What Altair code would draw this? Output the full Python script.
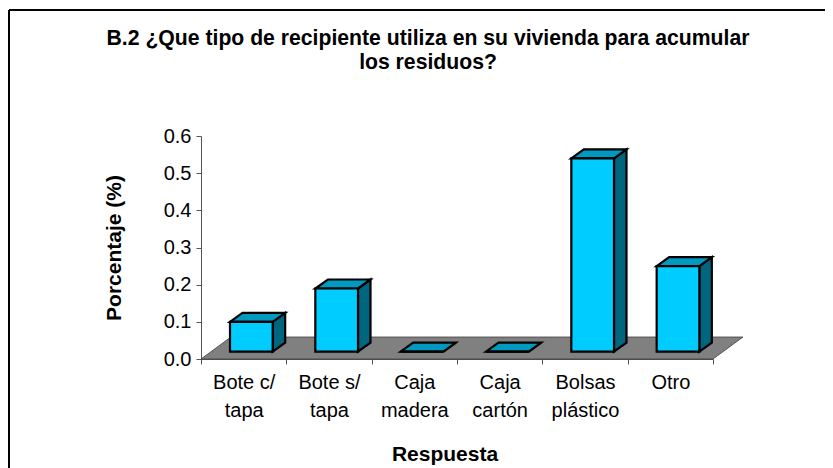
import altair as alt
import pandas as pd

categories = ["Bote c/\ntapa", "Bote s/\ntapa", "Caja\nmadera", "Caja\ncartón", "Bolsas\nplástico", "Otro"]
values = [0.08, 0.17, 0.0, 0.0, 0.52, 0.23]
title_lines = ["B.2 ¿Que tipo de recipiente utiliza en su vivienda para acumular", "los residuos?"]

FONT = "Liberation Sans"
W, H = 512, 223
UX, UY = W / 6, H / 0.6   # px per category / px per unit


def px(v):
    return v / UX


def py(v):
    return v / UY


FLOOR_DX, FLOOR_DY = px(30), py(22)
BASE_X, BASE_Y = px(29), py(7.3)
BAR_W = 0.5
SIDE_DX, SIDE_DY = px(12.5), py(9)

floor_rows = [
    dict(x=0, y=0, y2=0),
    dict(x=FLOOR_DX, y=0, y2=FLOOR_DY),
    dict(x=6, y=0, y2=FLOOR_DY),
    dict(x=6 + FLOOR_DX, y=FLOOR_DY, y2=FLOOR_DY),
]
front_rows, side_rows, top_rows = [], [], []
for i, v in enumerate(values):
    x0 = i + BASE_X
    x1 = x0 + BAR_W
    b = BASE_Y
    t = BASE_Y + v
    front_rows.append(dict(x=x0, x2=x1, y=b, y2=t))
    side_rows += [
        dict(bar=i, x=x1, y=b, y2=t),
        dict(bar=i, x=x1 + SIDE_DX, y=b + SIDE_DY, y2=t + SIDE_DY),
    ]
    top_rows += [
        dict(bar=i, x=x0, y=t, y2=t),
        dict(bar=i, x=x0 + SIDE_DX, y=t, y2=t + SIDE_DY),
        dict(bar=i, x=x1, y=t, y2=t + SIDE_DY),
        dict(bar=i, x=x1 + SIDE_DX, y=t + SIDE_DY, y2=t + SIDE_DY),
    ]

xq = alt.X("x:Q", scale=alt.Scale(domain=[0, 6], nice=False, zero=False), axis=None)
yq = alt.Y(
    "y:Q",
    scale=alt.Scale(domain=[0, 0.6], nice=False),
    axis=alt.Axis(
        values=[0, 0.1, 0.2, 0.3, 0.4, 0.5, 0.6],
        format=".1f",
        grid=False,
        title="Porcentaje (%)",
        titleFont=FONT,
        titleFontSize=21,
        titleFontWeight="bold",
        titleColor="#000000",
        titleX=-76.5,
        titleY=111.5,
        titleAnchor="middle",
        labelFont=FONT,
        labelFontSize=20,
        labelColor="#000000",
        labelPadding=5,
        tickSize=5,
        tickColor="#555555",
        domainColor="#555555",
    ),
)

axis_df = pd.DataFrame({"cat": categories, "y": values})
axis_layer = (
    alt.Chart(axis_df)
    .mark_tick(opacity=0)
    .encode(
        x=alt.X(
            "cat:N",
            sort=categories,
            scale=alt.Scale(paddingInner=0, paddingOuter=0),
            axis=alt.Axis(
                title="Respuesta",
                titleFont=FONT,
                titleFontSize=21,
                titleFontWeight="bold",
                titleColor="#000000",
                titleX=243.5,
                titleY=84,
                titleAnchor="middle",
                labelExpr="split(datum.label, '\\n')",
                labelAngle=0,
                labelFont=FONT,
                labelFontSize=20,
                labelColor="#000000",
                labelLineHeight=28,
                labelPadding=8,
                tickBand="extent",
                tickSize=5,
                tickColor="#555555",
                domainColor="#555555",
                labelBaseline="top",
            ),
        ),
        y=yq,
    )
)

floor = (
    alt.Chart(pd.DataFrame(floor_rows))
    .mark_area(color="#808080", stroke="#404040", strokeWidth=0.8)
    .encode(x=xq, y=yq, y2="y2:Q")
)
side = (
    alt.Chart(pd.DataFrame(side_rows))
    .mark_area(color="#006680", stroke="#000000", strokeWidth=2.2)
    .encode(x=xq, y=yq, y2="y2:Q", detail="bar:N")
)
top = (
    alt.Chart(pd.DataFrame(top_rows))
    .mark_area(color="#0099C0", stroke="#000000", strokeWidth=2.2)
    .encode(x=xq, y=yq, y2="y2:Q", detail="bar:N")
)
front = (
    alt.Chart(pd.DataFrame(front_rows))
    .mark_rect(color="#00CCFF", stroke="#000000", strokeWidth=2.2)
    .encode(x=xq, x2="x2:Q", y=yq, y2="y2:Q")
)

frame_left = alt.Chart(axis_df).mark_rule(color="#000000", strokeWidth=1.2).encode(
    x=alt.value(-192), y=alt.value(-126), y2=alt.value(340)
)
frame_top = alt.Chart(axis_df).mark_rule(color="#000000", strokeWidth=1.2).encode(
    x=alt.value(-192), x2=alt.value(640), y=alt.value(-126)
)

chart = (
    alt.layer(axis_layer, floor, side, top, front, frame_left, frame_top)
    .resolve_scale(x="independent")
    .properties(
        width=W,
        height=H,
        autosize="none",
        padding={"left": 193, "top": 128, "right": 112, "bottom": 109},
        title=alt.TitleParams(
            text=title_lines,
            font=FONT,
            fontSize=21.2,
            fontWeight="bold",
            color="#000000",
            anchor="middle",
            frame="group",
            dx=-29,
            offset=-63.5,
            lineHeight=24,
        ),
    )
    .configure_view(stroke=None)
)

chart.save("out.html", embed_options={"renderer": "svg", "actions": False})
